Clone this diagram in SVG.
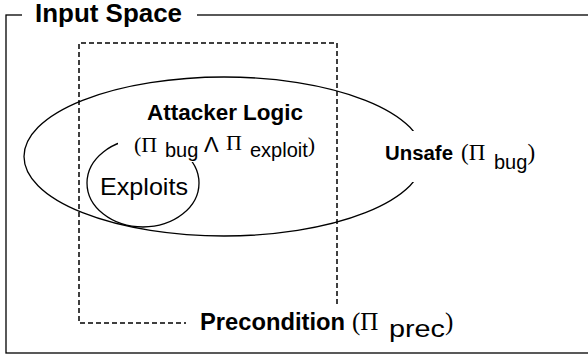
<svg xmlns="http://www.w3.org/2000/svg" width="588" height="356" viewBox="0 0 588 356">
<style>
.line{fill:none;stroke:#000;stroke-width:1.3}
.dash{fill:none;stroke:#000;stroke-width:1.5;stroke-dasharray:5 3}
.bg{fill:#fff;stroke:none}
.b{font-family:"Liberation Sans",Arial,sans-serif;font-weight:bold;fill:#000}
.s{font-family:"Liberation Sans",Arial,sans-serif;fill:#000}
.r{font-family:"Liberation Serif","Times New Roman",serif;fill:#000}
</style>
<rect width="588" height="356" fill="#fff"/>
<g id="input-space">
<rect class="line" x="6" y="15" width="590" height="338"/>
<rect class="bg" x="22" y="2" width="175" height="24"/>
<text class="b" x="35" y="22" font-size="25" textLength="147" lengthAdjust="spacingAndGlyphs">Input Space</text>
</g>
<g id="precondition">
<path class="dash" d="M337 304 V43 H79 V323 H186"/>
<text x="200" y="330"><tspan class="b" font-size="24" textLength="145" lengthAdjust="spacingAndGlyphs">Precondition</tspan><tspan class="r" font-size="25" x="352">(Π</tspan><tspan class="s" font-size="24" x="389" dy="7" textLength="56" lengthAdjust="spacingAndGlyphs">prec</tspan><tspan class="r" font-size="25" dy="-7">)</tspan></text>
</g>
<g id="unsafe">
<ellipse class="line" cx="224" cy="156.5" rx="200" ry="79.5"/>
<rect class="bg" x="380" y="131" width="160" height="51"/>
<text x="385" y="160"><tspan class="b" font-size="20" textLength="68" lengthAdjust="spacingAndGlyphs">Unsafe</tspan><tspan class="r" font-size="23" x="461">(Π</tspan><tspan class="s" font-size="20" x="494" dy="9">bug</tspan><tspan class="r" font-size="23" dy="-9">)</tspan></text>
</g>
<g id="exploits">
<ellipse class="line" cx="143" cy="183" rx="56" ry="44"/>
<text class="s" x="100" y="195" font-size="24" textLength="88" lengthAdjust="spacingAndGlyphs">Exploits</text>
</g>
<g id="attacker-logic">
<rect class="bg" x="118" y="128" width="198" height="34"/>
<text class="b" x="147" y="120" font-size="21.5" textLength="156" lengthAdjust="spacingAndGlyphs">Attacker Logic</text>
<text y="152"><tspan class="r" font-size="22" x="134">(Π</tspan><tspan class="s" font-size="20" x="165" dy="5">bug</tspan><tspan class="s" font-size="22" x="204" dy="-5">Λ</tspan><tspan class="r" font-size="22" x="226" dy="-2">Π</tspan><tspan class="s" font-size="20" x="250" dy="7">exploit</tspan><tspan class="r" font-size="22" dy="-5">)</tspan></text>
</g>
</svg>
